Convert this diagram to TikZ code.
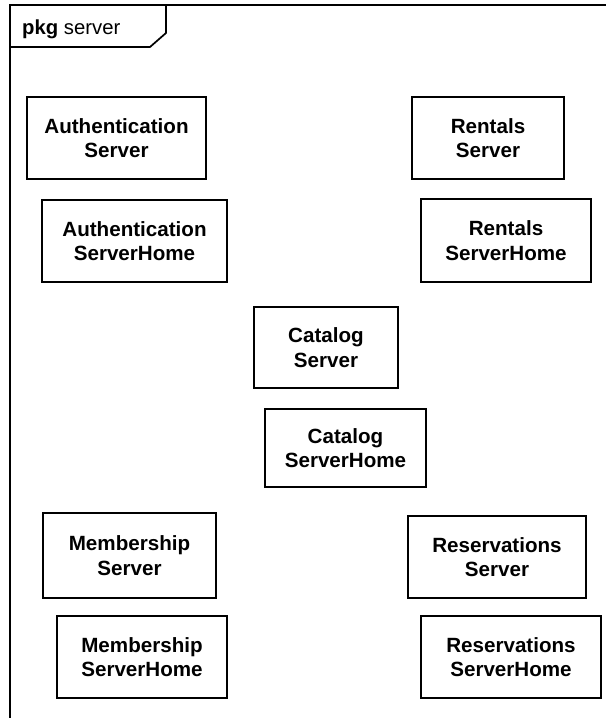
\documentclass[tikz,border=0pt]{standalone}
\usepackage{fontspec}
\setmainfont{Liberation Sans}
\begin{document}
\begin{tikzpicture}[x=1pt,y=-1pt,
  frameline/.style={line width=1.7pt, line join=miter},
  compbox/.style={draw, line width=1.7pt, inner sep=0pt, align=center,
    font=\fontsize{20.6}{24.5}\selectfont\bfseries},
  tabtext/.style={inner sep=0pt, anchor=base west, font=\fontsize{20.3}{24}\selectfont}]
\useasboundingbox (0,0) rectangle (606,718);
% package frame
\draw[frameline] (10,718) -- (10,5) -- (606,5);
\draw[frameline] (10,47) -- (150,47) -- (166,33) -- (166,5);
\node[tabtext] (title) at (22,34) {\textbf{pkg} server};
% components
\node[compbox, minimum width=179pt, minimum height=82pt] (as) at (116.5,138) {Authentication\\Server};
\node[compbox, minimum width=185pt, minimum height=82pt] (ash) at (134.5,241) {Authentication\\ServerHome};
\node[compbox, minimum width=152pt, minimum height=82pt] (rs) at (488,138) {Rentals\\Server};
\node[compbox, minimum width=170pt, minimum height=83pt] (rsh) at (506,240.5) {Rentals\\ServerHome};
\node[compbox, minimum width=144pt, minimum height=81pt] (cs) at (326,347.5) {Catalog\\Server};
\node[compbox, minimum width=161pt, minimum height=78pt] (csh) at (345.5,448) {Catalog\\ServerHome};
\node[compbox, minimum width=173pt, minimum height=85pt] (ms) at (129.5,555.5) {Membership\\Server};
\node[compbox, minimum width=170pt, minimum height=82pt] (msh) at (142,657) {Membership\\ServerHome};
\node[compbox, minimum width=178pt, minimum height=82pt] (res) at (497,557) {Reservations\\Server};
\node[compbox, minimum width=180pt, minimum height=82pt] (resh) at (511,657) {Reservations\\ServerHome};
\end{tikzpicture}
\end{document}
